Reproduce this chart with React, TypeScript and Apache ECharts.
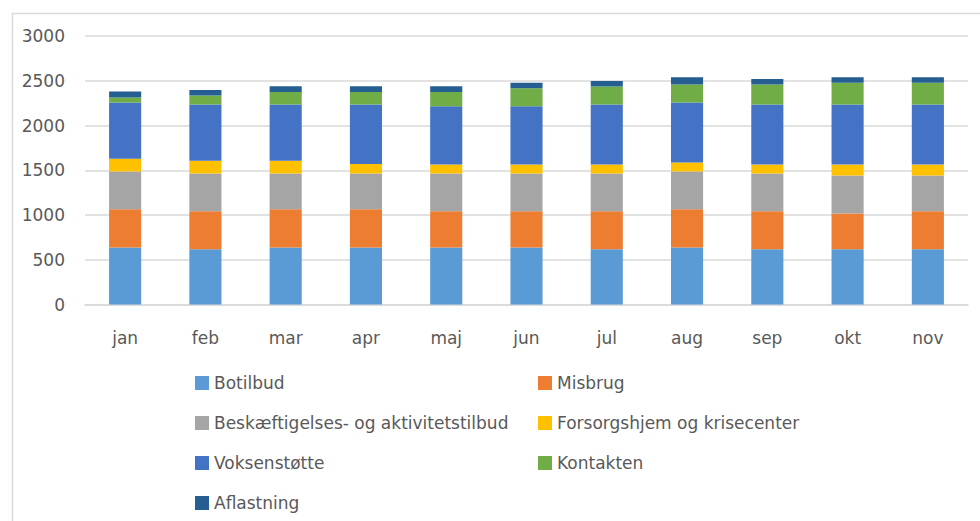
import React, { useEffect, useRef } from "react";
import * as echarts from "echarts";

const months = ["jan", "feb", "mar", "apr", "maj", "jun", "jul", "aug", "sep", "okt", "nov"];
const botilbud = [636, 617, 636, 636, 636, 636, 617, 636, 617, 617, 617];
const misbrug = [427, 424, 427, 427, 405, 405, 424, 427, 424, 401, 424];
const beskaeftigelse = [424, 423, 401, 401, 423, 423, 423, 424, 423, 424, 401];
const forsorgshjem = [141, 142, 142, 105, 101, 101, 101, 100, 101, 123, 123];
const voksenstoette = [628, 628, 628, 665, 650, 650, 669, 669, 669, 669, 669];
const kontakten = [56, 100, 141, 141, 160, 201, 201, 201, 223, 245, 245];
const aflastning = [67, 63, 63, 63, 63, 63, 63, 82, 63, 60, 60];
const yTicks = [0, 500, 1000, 1500, 2000, 2500, 3000];

const seriesDefs = [
  { name: "Botilbud", data: botilbud, color: "#5B9BD5" },
  { name: "Misbrug", data: misbrug, color: "#ED7D31" },
  { name: "Beskæftigelses- og aktivitetstilbud", data: beskaeftigelse, color: "#A5A5A5" },
  { name: "Forsorgshjem og krisecenter", data: forsorgshjem, color: "#FFC000" },
  { name: "Voksenstøtte", data: voksenstoette, color: "#4472C4" },
  { name: "Kontakten", data: kontakten, color: "#70AD47" },
  { name: "Aflastning", data: aflastning, color: "#255E91" },
];

const FONT = "DejaVu Sans";
const TXT = "#595959";

export default function App() {
  const ref = useRef<HTMLDivElement>(null);
  useEffect(() => {
    document.body.style.margin = "0";
    const chart = echarts.init(ref.current!, null, { renderer: "svg" });
    const legendCommon = {
      orient: "vertical" as const,
      itemWidth: 14,
      itemHeight: 14,
      itemGap: 22,
      padding: 0,
      icon: "rect",
      selectedMode: false,
      textStyle: { fontFamily: FONT, fontSize: 17, color: TXT, lineHeight: 18 },
    };
    chart.setOption({
      animation: false,
      backgroundColor: "#fff",
      textStyle: { fontFamily: FONT },
      grid: { left: 85, right: 12, top: 36, bottom: 216.5, containLabel: false },
      xAxis: {
        type: "category",
        data: months,
        axisLine: { lineStyle: { color: "#d9d9d9", width: 1.5 } },
        axisTick: { show: false },
        axisLabel: { color: TXT, fontSize: 17, fontFamily: FONT, margin: 25 },
      },
      yAxis: {
        type: "value",
        min: yTicks[0],
        max: yTicks[yTicks.length - 1],
        interval: 500,
        axisLine: { show: false },
        axisTick: { show: false },
        splitLine: { lineStyle: { color: "#d9d9d9", width: 1.5 } },
        axisLabel: {
          color: TXT,
          fontSize: 17,
          fontFamily: FONT,
          margin: 20,
          formatter: (v: number) => String(v),
        },
      },
      legend: [
        {
          ...legendCommon,
          left: 195,
          top: 374,
          data: ["Botilbud", "Beskæftigelses- og aktivitetstilbud", "Voksenstøtte", "Aflastning"],
        },
        {
          ...legendCommon,
          left: 538,
          top: 374,
          data: ["Misbrug", "Forsorgshjem og krisecenter", "Kontakten"],
        },
      ],
      graphic: [
        {
          type: "rect",
          left: 10,
          top: 11,
          shape: { width: 1000, height: 600 },
          style: { fill: "none", stroke: "#d9d9d9", lineWidth: 1.5 },
          silent: true,
        },
      ],
      series: seriesDefs.map((s) => ({
        name: s.name,
        type: "bar",
        stack: "total",
        barWidth: "40%",
        data: s.data,
        itemStyle: { color: s.color },
      })),
    });
    return () => chart.dispose();
  }, []);
  return <div ref={ref} style={{ width: 980, height: 521 }} />;
}
